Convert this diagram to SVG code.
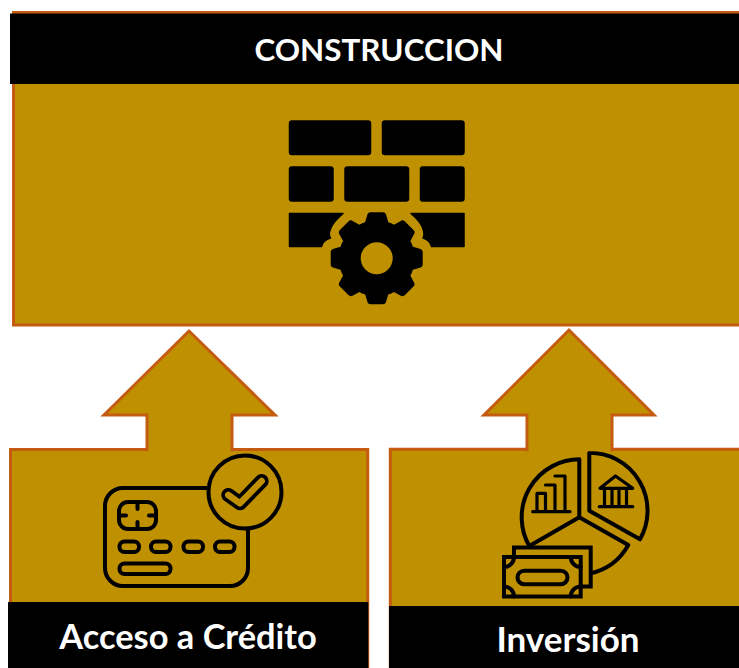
<svg xmlns="http://www.w3.org/2000/svg" width="739" height="668" viewBox="0 0 739 668">
<style>
.panel{fill:#BF9000;stroke:#C55A11;stroke-width:3}
.bar{fill:#000}
.label{font-family:"Lato","Carlito","Liberation Sans",sans-serif;font-weight:700;fill:#fff;text-anchor:middle}
.line{fill:none;stroke:#000;stroke-width:4;stroke-linejoin:round;stroke-linecap:round}
.thin{fill:none;stroke:#000;stroke-width:3.200;stroke-linejoin:round;stroke-linecap:round}
.lf{fill:#BF9000;stroke:#000;stroke-width:4;stroke-linejoin:miter}
.brick{fill:#000;stroke:#000;stroke-width:1.500;stroke-linejoin:round}
</style>
<defs>
<path id="tooth" d="M-12.500-33 L-9.500-43 Q-9-46-6-46 H6 Q9-46 9.500-43 L12.500-33 Z" fill="#000"/>
</defs>
<rect width="739" height="668" fill="#fff"/>
<g id="construccion">
<rect class="panel" x="13.500" y="12.500" width="740" height="312.500"/>
<rect class="bar" x="10" y="13.500" width="729" height="70.500"/>
<text class="label" x="379" y="61" font-size="31.400">CONSTRUCCION</text>
<g id="wall-icon">
<rect class="brick" x="289.500" y="121" width="81" height="33.500" rx="2.500"/>
<rect class="brick" x="382.500" y="121" width="81.500" height="33.500" rx="2.500"/>
<rect class="brick" x="289.500" y="167" width="43.500" height="34" rx="2.500"/>
<rect class="brick" x="345" y="167" width="63.500" height="34" rx="2.500"/>
<rect class="brick" x="420.500" y="167" width="43.500" height="34" rx="2.500"/>
<path class="brick" d="M289.500 213.500 H343 Q333 222 330.500 229 Q328 235 330.500 238 Q323 240 321.500 246.500 H289.500 Z"/>
<path class="brick" d="M464 213.500 H411 Q421 222 423 229 Q425 235 423 238 Q430 240 431.500 246.500 H464 Z"/>
<g transform="translate(376.700 258.300)">
<circle r="38" fill="#000"/>
<use href="#tooth"/>
<use href="#tooth" transform="rotate(45)"/>
<use href="#tooth" transform="rotate(90)"/>
<use href="#tooth" transform="rotate(135)"/>
<use href="#tooth" transform="rotate(180)"/>
<use href="#tooth" transform="rotate(225)"/>
<use href="#tooth" transform="rotate(270)"/>
<use href="#tooth" transform="rotate(315)"/>
<circle r="16" fill="#BF9000"/>
</g>
</g>
</g>
<g id="acceso-credito">
<path class="panel" d="M10.500 449.500 H367.700 V670 H10.500 Z"/>
<rect class="bar" x="8" y="602" width="360.300" height="66"/>
<text class="label" x="188" y="649" font-size="34.400">Acceso a Crédito</text>
<g id="card-icon">
<rect class="line" x="105" y="488" width="143" height="98" rx="18"/>
<circle class="lf" cx="245" cy="492" r="36.500"/>
<rect class="line" x="119" y="502" width="37" height="27" rx="9"/>
<path class="line" d="M137.500 502 V509 M137.500 522 V529 M119 515.500 H126 M149 515.500 H156"/>
<rect class="line" x="119.500" y="541.500" width="19.500" height="10.500" rx="5"/>
<rect class="line" x="151" y="541.500" width="19.500" height="10.500" rx="5"/>
<rect class="line" x="183.500" y="541.500" width="19.500" height="10.500" rx="5"/>
<rect class="line" x="215" y="541.500" width="19.500" height="10.500" rx="5"/>
<rect class="line" x="119.500" y="563.500" width="51" height="10.500" rx="5"/>
<path d="M228.300 495 L240 503.300 L261.700 481" fill="none" stroke="#000" stroke-width="14" stroke-linecap="round" stroke-linejoin="round"/>
<path d="M228.300 495 L240 503.300 L261.700 481" fill="none" stroke="#BF9000" stroke-width="6.500" stroke-linecap="round" stroke-linejoin="round"/>
</g>
</g>
<g id="inversion">
<path class="panel" d="M390.300 449.300 H745 V670 H390.300 Z"/>
<rect class="bar" x="389" y="606" width="350" height="62"/>
<text class="label" x="568" y="652" font-size="35">Inversión</text>
<g id="investment-icon">
<path class="line" d="M579.300 459.300 A58 58 0 0 0 529.300 546 L579.300 517.300 Z"/>
<path class="line" d="M589.300 452.700 A58 58 0 0 1 640 539.300 L589.300 510.700 Z"/>
<path class="line" d="M579.300 517.300 L628.300 545 A58 58 0 0 1 590.700 573.300"/>
<rect class="lf" x="514" y="547.500" width="76.700" height="39"/>
<rect class="lf" x="504" y="557" width="76.700" height="39.500"/>
<rect class="line" x="517.500" y="570.700" width="50" height="13.500" rx="6.700"/>
<path class="line" d="M514 557 A10 10 0 0 1 504 567 M570.700 557 A10 10 0 0 0 580.700 567 M504 586.500 A10 10 0 0 1 514 596.500 M580.700 586.500 A10 10 0 0 0 570.700 596.500"/>
<path class="thin" d="M532.700 511.700 H570 M537 511.700 V493.300 H545.500 V511.700 M545.500 485 H555 V511.700 M555 476 H565 V511.700"/>
<path class="thin" d="M600 488.300 L615.500 476 L632.700 488.300 Z M604.500 489.500 V506.700 M612 489.500 V506.700 M619 489.500 V506.700 M626.500 489.500 V506.700 M599.300 506.700 H632.700"/>
</g>
</g>
<g id="connectors">
<path class="panel" d="M147 451.200 V415 H104 L189 331 L275 415 H232 V451.200"/>
<path class="panel" d="M527 451.200 V415 H484 L569 330 L654 415 H612 V451.200"/>
</g>
</svg>
